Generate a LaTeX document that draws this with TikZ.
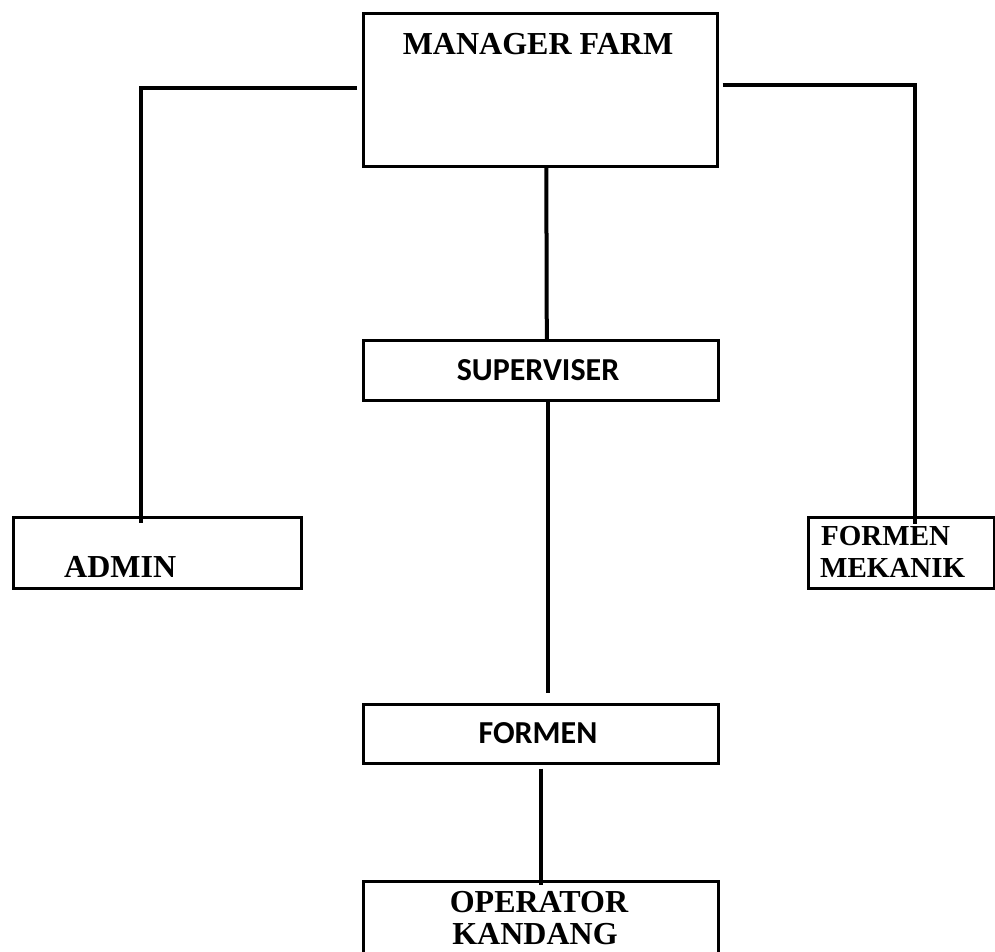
\documentclass[tikz,border=0pt]{standalone}
\usepackage{fontspec}
\setmainfont{Liberation Serif}
\newfontfamily\calfont{Carlito}
\begin{document}
\begin{tikzpicture}[x=1pt,y=-1pt,
  box/.style={draw=black,line width=2.6pt,rectangle,inner sep=0pt,anchor=north west},
  conn/.style={draw=black,line width=4pt},
  serlabel/.style={inner sep=0pt,font=\fontsize{32}{33}\selectfont\bfseries},
  smallserlabel/.style={inner sep=0pt,font=\fontsize{29}{30}\selectfont\bfseries},
  sanslabel/.style={inner sep=0pt,font=\calfont\fontsize{32}{33}\selectfont\bfseries}]
\useasboundingbox (0,0) rectangle (995,951);
% boxes
\node[box,minimum width=354pt,minimum height=153pt] (mgr) at (362,12) {};
\node[box,minimum width=288pt,minimum height=71pt] (admin) at (12,516) {};
\node[box,minimum width=186pt,minimum height=71pt] (fm) at (807,516) {};
\node[box,minimum width=355pt,minimum height=60pt] (sup) at (362,339) {};
\node[box,minimum width=355pt,minimum height=59pt] (formen) at (362,703) {};
\node[box,minimum width=355pt,minimum height=100pt] (op) at (362,880) {};
% texts
\node[serlabel,anchor=base] (tmgr) at (538,54) {MANAGER FARM};
\node[serlabel,anchor=base west] (tadmin) at (64,577) {ADMIN};
\node[smallserlabel,anchor=base west] (tfm1) at (821,545) {FORMEN};
\node[smallserlabel,anchor=base west] (tfm2) at (820,577) {MEKANIK};
\node[sanslabel,anchor=base] (tsup) at (538,380) {SUPERVISER};
\node[sanslabel,anchor=base] (tformen) at (538,743) {FORMEN};
\node[serlabel,anchor=base] (top1) at (539,912) {OPERATOR};
\node[serlabel,anchor=base] (top2) at (535,944) {KANDANG};
% connectors
\coordinate (lstart) at ([xshift=-5pt,yshift=2pt]mgr.west);
\coordinate (lend) at ([xshift=-16pt,yshift=-7pt]admin.north);
\draw[conn] (lstart) -| (lend);
\coordinate (rstart) at ([xshift=4pt,yshift=5pt]mgr.east);
\coordinate (rend) at ([xshift=13.5pt,yshift=-8pt]fm.north);
\draw[conn] (rstart) -| (rend);
\draw[conn] ([xshift=6pt]mgr.south) -- ([xshift=6pt]sup.north);
\draw[conn] ([xshift=7pt]sup.south) -- ([xshift=7pt,yshift=10pt]formen.north);
\draw[conn] ([xshift=0pt,yshift=-4pt]formen.south) -- ([xshift=0pt,yshift=-5pt]op.north);
\end{tikzpicture}
\end{document}
